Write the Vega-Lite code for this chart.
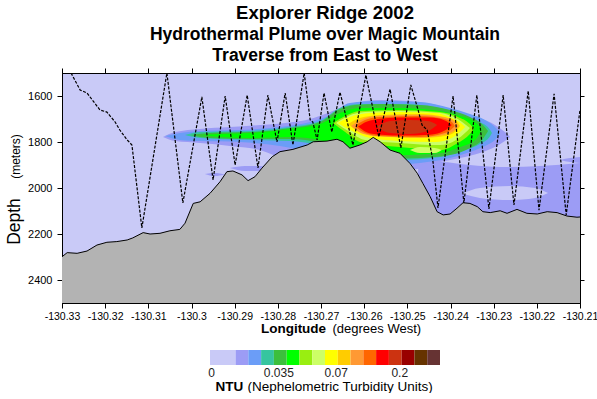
{
  "$schema": "https://vega.github.io/schema/vega-lite/v6.json",
  "padding": {"left": 5, "top": 3, "right": 0, "bottom": 0},
  "width": 518,
  "height": 230,
  "config": {
    "font": "Liberation Sans",
    "view": {"stroke": null},
    "axis": {"labelFont": "Liberation Sans", "titleFont": "Liberation Sans", "labelFontSize": 10.5, "labelColor": "#000", "tickColor": "#000", "domainColor": "#000", "titleColor": "#000", "grid": false, "labelFlush": false, "labelOverlap": false},
    "title": {"font": "Liberation Sans", "subtitleFont": "Liberation Sans", "color": "#000", "subtitleColor": "#000"}
  },
  "title": {
    "text": "Explorer Ridge 2002",
    "subtitle": ["Hydrothermal Plume over Magic Mountain", "Traverse from East to West"],
    "fontSize": 18.5,
    "fontWeight": "bold",
    "subtitleFontSize": 17.5,
    "subtitleFontWeight": "bold",
    "subtitlePadding": 4,
    "subtitleLineHeight": 21,
    "anchor": "middle",
    "frame": "group",
    "offset": 3,
    "dx": 4
  },
  "view": {"fill": "#c9caf7", "stroke": "#000", "strokeWidth": 1},
  "datasets": {
    "plume": [
      {"lvl":2,"blob":"a","lon":-130.3066,"top":1778,"bot":1778},
      {"lvl":2,"blob":"a","lon":-130.3038,"top":1757,"bot":1796},
      {"lvl":2,"blob":"a","lon":-130.2980,"top":1743,"bot":1804},
      {"lvl":2,"blob":"a","lon":-130.2911,"top":1735,"bot":1817},
      {"lvl":2,"blob":"a","lon":-130.2841,"top":1726,"bot":1835},
      {"lvl":2,"blob":"a","lon":-130.2783,"top":1717,"bot":1878},
      {"lvl":2,"blob":"a","lon":-130.2725,"top":1700,"bot":1900},
      {"lvl":2,"blob":"a","lon":-130.2679,"top":1670,"bot":1900},
      {"lvl":2,"blob":"a","lon":-130.2633,"top":1635,"bot":1913},
      {"lvl":2,"blob":"a","lon":-130.2563,"top":1617,"bot":1922},
      {"lvl":2,"blob":"a","lon":-130.2494,"top":1622,"bot":1922},
      {"lvl":2,"blob":"a","lon":-130.2424,"top":1643,"bot":1887},
      {"lvl":2,"blob":"a","lon":-130.2378,"top":1670,"bot":1870},
      {"lvl":2,"blob":"a","lon":-130.2332,"top":1696,"bot":1848},
      {"lvl":2,"blob":"a","lon":-130.2297,"top":1726,"bot":1822},
      {"lvl":2,"blob":"a","lon":-130.2274,"top":1757,"bot":1796},
      {"lvl":2,"blob":"a","lon":-130.2262,"top":1778,"bot":1778},
      {"lvl":2,"blob":"b","lon":-130.2911,"top":1913,"bot":1913},
      {"lvl":2,"blob":"b","lon":-130.2876,"top":1904,"bot":1926},
      {"lvl":2,"blob":"b","lon":-130.2841,"top":1904,"bot":1926},
      {"lvl":2,"blob":"b","lon":-130.2818,"top":1913,"bot":1913},
      {"lvl":2,"blob":"c","lon":-130.2969,"top":1939,"bot":1939},
      {"lvl":2,"blob":"c","lon":-130.2946,"top":1935,"bot":1948},
      {"lvl":2,"blob":"c","lon":-130.2922,"top":1941,"bot":1941},
      {"lvl":2,"blob":"d","lon":-130.2475,"top":1900,"bot":2161},
      {"lvl":2,"blob":"d","lon":-130.2424,"top":1887,"bot":2161},
      {"lvl":2,"blob":"d","lon":-130.2355,"top":1900,"bot":2161},
      {"lvl":2,"blob":"d","lon":-130.2285,"top":1909,"bot":2161},
      {"lvl":2,"blob":"d","lon":-130.2193,"top":1904,"bot":2161},
      {"lvl":2,"blob":"d","lon":-130.2100,"top":1891,"bot":2161},
      {"lvl":2,"blob":"e","lon":-130.2146,"top":1878,"bot":1878},
      {"lvl":2,"blob":"e","lon":-130.2123,"top":1870,"bot":1887},
      {"lvl":2,"blob":"e","lon":-130.2100,"top":1865,"bot":1891},
      {"lvl":1,"blob":"s1","lon":-130.2373,"top":2024,"bot":2024},
      {"lvl":1,"blob":"s1","lon":-130.2332,"top":2000,"bot":2043},
      {"lvl":1,"blob":"s1","lon":-130.2262,"top":1991,"bot":2052},
      {"lvl":1,"blob":"s1","lon":-130.2204,"top":2000,"bot":2043},
      {"lvl":1,"blob":"s1","lon":-130.2174,"top":2022,"bot":2022},
      {"lvl":3,"blob":"a","lon":-130.3061,"top":1774,"bot":1774},
      {"lvl":3,"blob":"a","lon":-130.3027,"top":1761,"bot":1791},
      {"lvl":3,"blob":"a","lon":-130.2980,"top":1752,"bot":1796},
      {"lvl":3,"blob":"a","lon":-130.2888,"top":1748,"bot":1800},
      {"lvl":3,"blob":"a","lon":-130.2795,"top":1735,"bot":1817},
      {"lvl":3,"blob":"a","lon":-130.2725,"top":1713,"bot":1843},
      {"lvl":3,"blob":"a","lon":-130.2679,"top":1683,"bot":1865},
      {"lvl":3,"blob":"a","lon":-130.2633,"top":1630,"bot":1887},
      {"lvl":3,"blob":"a","lon":-130.2563,"top":1622,"bot":1900},
      {"lvl":3,"blob":"a","lon":-130.2471,"top":1626,"bot":1891},
      {"lvl":3,"blob":"a","lon":-130.2401,"top":1652,"bot":1870},
      {"lvl":3,"blob":"a","lon":-130.2355,"top":1678,"bot":1843},
      {"lvl":3,"blob":"a","lon":-130.2320,"top":1704,"bot":1817},
      {"lvl":3,"blob":"a","lon":-130.2297,"top":1735,"bot":1791},
      {"lvl":3,"blob":"a","lon":-130.2285,"top":1763,"bot":1763},
      {"lvl":4,"blob":"a","lon":-130.3015,"top":1770,"bot":1770},
      {"lvl":4,"blob":"a","lon":-130.2980,"top":1757,"bot":1783},
      {"lvl":4,"blob":"a","lon":-130.2864,"top":1752,"bot":1791},
      {"lvl":4,"blob":"a","lon":-130.2772,"top":1735,"bot":1796},
      {"lvl":4,"blob":"a","lon":-130.2702,"top":1709,"bot":1817},
      {"lvl":4,"blob":"a","lon":-130.2656,"top":1652,"bot":1857},
      {"lvl":4,"blob":"a","lon":-130.2610,"top":1635,"bot":1878},
      {"lvl":4,"blob":"a","lon":-130.2517,"top":1635,"bot":1878},
      {"lvl":4,"blob":"a","lon":-130.2424,"top":1652,"bot":1865},
      {"lvl":4,"blob":"a","lon":-130.2366,"top":1687,"bot":1835},
      {"lvl":4,"blob":"a","lon":-130.2332,"top":1713,"bot":1809},
      {"lvl":4,"blob":"a","lon":-130.2308,"top":1748,"bot":1774},
      {"lvl":4,"blob":"a","lon":-130.2304,"top":1761,"bot":1761},
      {"lvl":5,"blob":"a","lon":-130.3003,"top":1770,"bot":1770},
      {"lvl":5,"blob":"a","lon":-130.2957,"top":1761,"bot":1783},
      {"lvl":5,"blob":"a","lon":-130.2864,"top":1757,"bot":1787},
      {"lvl":5,"blob":"a","lon":-130.2772,"top":1739,"bot":1787},
      {"lvl":5,"blob":"a","lon":-130.2702,"top":1713,"bot":1804},
      {"lvl":5,"blob":"a","lon":-130.2656,"top":1657,"bot":1843},
      {"lvl":5,"blob":"a","lon":-130.2621,"top":1639,"bot":1870},
      {"lvl":5,"blob":"a","lon":-130.2563,"top":1635,"bot":1874},
      {"lvl":5,"blob":"a","lon":-130.2471,"top":1639,"bot":1870},
      {"lvl":5,"blob":"a","lon":-130.2401,"top":1661,"bot":1857},
      {"lvl":5,"blob":"a","lon":-130.2355,"top":1691,"bot":1826},
      {"lvl":5,"blob":"a","lon":-130.2327,"top":1722,"bot":1791},
      {"lvl":5,"blob":"a","lon":-130.2313,"top":1752,"bot":1752},
      {"lvl":6,"blob":"a","lon":-130.2980,"top":1770,"bot":1770},
      {"lvl":6,"blob":"a","lon":-130.2934,"top":1765,"bot":1778},
      {"lvl":6,"blob":"a","lon":-130.2864,"top":1761,"bot":1783},
      {"lvl":6,"blob":"a","lon":-130.2772,"top":1743,"bot":1778},
      {"lvl":6,"blob":"a","lon":-130.2702,"top":1722,"bot":1791},
      {"lvl":6,"blob":"a","lon":-130.2656,"top":1674,"bot":1826},
      {"lvl":6,"blob":"a","lon":-130.2610,"top":1652,"bot":1857},
      {"lvl":6,"blob":"a","lon":-130.2517,"top":1652,"bot":1857},
      {"lvl":6,"blob":"a","lon":-130.2424,"top":1665,"bot":1848},
      {"lvl":6,"blob":"a","lon":-130.2378,"top":1687,"bot":1822},
      {"lvl":6,"blob":"a","lon":-130.2343,"top":1713,"bot":1791},
      {"lvl":6,"blob":"a","lon":-130.2327,"top":1743,"bot":1743},
      {"lvl":7,"blob":"a","lon":-130.2672,"top":1717,"bot":1717},
      {"lvl":7,"blob":"a","lon":-130.2644,"top":1687,"bot":1757},
      {"lvl":7,"blob":"a","lon":-130.2610,"top":1665,"bot":1800},
      {"lvl":7,"blob":"a","lon":-130.2517,"top":1661,"bot":1822},
      {"lvl":7,"blob":"a","lon":-130.2424,"top":1670,"bot":1835},
      {"lvl":7,"blob":"a","lon":-130.2383,"top":1691,"bot":1804},
      {"lvl":7,"blob":"a","lon":-130.2355,"top":1722,"bot":1765},
      {"lvl":7,"blob":"a","lon":-130.2346,"top":1743,"bot":1743},
      {"lvl":8,"blob":"a","lon":-130.2665,"top":1717,"bot":1717},
      {"lvl":8,"blob":"a","lon":-130.2637,"top":1687,"bot":1752},
      {"lvl":8,"blob":"a","lon":-130.2598,"top":1670,"bot":1791},
      {"lvl":8,"blob":"a","lon":-130.2517,"top":1665,"bot":1804},
      {"lvl":8,"blob":"a","lon":-130.2424,"top":1674,"bot":1813},
      {"lvl":8,"blob":"a","lon":-130.2387,"top":1696,"bot":1791},
      {"lvl":8,"blob":"a","lon":-130.2364,"top":1726,"bot":1757},
      {"lvl":8,"blob":"a","lon":-130.2355,"top":1739,"bot":1739},
      {"lvl":8,"blob":"b","lon":-130.2494,"top":1835,"bot":1835},
      {"lvl":8,"blob":"b","lon":-130.2471,"top":1822,"bot":1848},
      {"lvl":8,"blob":"b","lon":-130.2436,"top":1826,"bot":1848},
      {"lvl":8,"blob":"b","lon":-130.2420,"top":1835,"bot":1835},
      {"lvl":9,"blob":"a","lon":-130.2661,"top":1717,"bot":1717},
      {"lvl":9,"blob":"a","lon":-130.2633,"top":1691,"bot":1748},
      {"lvl":9,"blob":"a","lon":-130.2586,"top":1674,"bot":1783},
      {"lvl":9,"blob":"a","lon":-130.2517,"top":1670,"bot":1796},
      {"lvl":9,"blob":"a","lon":-130.2436,"top":1674,"bot":1800},
      {"lvl":9,"blob":"a","lon":-130.2397,"top":1696,"bot":1783},
      {"lvl":9,"blob":"a","lon":-130.2373,"top":1722,"bot":1748},
      {"lvl":9,"blob":"a","lon":-130.2366,"top":1735,"bot":1735},
      {"lvl":10,"blob":"a","lon":-130.2637,"top":1722,"bot":1722},
      {"lvl":10,"blob":"a","lon":-130.2610,"top":1696,"bot":1757},
      {"lvl":10,"blob":"a","lon":-130.2563,"top":1683,"bot":1774},
      {"lvl":10,"blob":"a","lon":-130.2471,"top":1678,"bot":1783},
      {"lvl":10,"blob":"a","lon":-130.2413,"top":1691,"bot":1774},
      {"lvl":10,"blob":"a","lon":-130.2387,"top":1709,"bot":1752},
      {"lvl":10,"blob":"a","lon":-130.2378,"top":1730,"bot":1730},
      {"lvl":11,"blob":"a","lon":-130.2630,"top":1730,"bot":1730},
      {"lvl":11,"blob":"a","lon":-130.2605,"top":1702,"bot":1763},
      {"lvl":11,"blob":"a","lon":-130.2563,"top":1686,"bot":1776},
      {"lvl":11,"blob":"a","lon":-130.2471,"top":1681,"bot":1780},
      {"lvl":11,"blob":"a","lon":-130.2413,"top":1694,"bot":1767},
      {"lvl":11,"blob":"a","lon":-130.2390,"top":1712,"bot":1749},
      {"lvl":11,"blob":"a","lon":-130.2381,"top":1730,"bot":1730},
      {"lvl":12,"blob":"a","lon":-130.2621,"top":1730,"bot":1730},
      {"lvl":12,"blob":"a","lon":-130.2598,"top":1704,"bot":1761},
      {"lvl":12,"blob":"a","lon":-130.2563,"top":1691,"bot":1774},
      {"lvl":12,"blob":"a","lon":-130.2471,"top":1687,"bot":1778},
      {"lvl":12,"blob":"a","lon":-130.2413,"top":1700,"bot":1761},
      {"lvl":12,"blob":"a","lon":-130.2397,"top":1713,"bot":1743},
      {"lvl":12,"blob":"a","lon":-130.2390,"top":1730,"bot":1730},
      {"lvl":13,"blob":"a","lon":-130.2614,"top":1733,"bot":1733},
      {"lvl":13,"blob":"a","lon":-130.2586,"top":1706,"bot":1763},
      {"lvl":13,"blob":"a","lon":-130.2517,"top":1694,"bot":1772},
      {"lvl":13,"blob":"a","lon":-130.2447,"top":1694,"bot":1768},
      {"lvl":13,"blob":"a","lon":-130.2413,"top":1706,"bot":1750},
      {"lvl":13,"blob":"a","lon":-130.2397,"top":1726,"bot":1726},
      {"lvl":14,"blob":"a","lon":-130.2573,"top":1735,"bot":1735},
      {"lvl":14,"blob":"a","lon":-130.2540,"top":1709,"bot":1761},
      {"lvl":14,"blob":"a","lon":-130.2494,"top":1704,"bot":1765},
      {"lvl":14,"blob":"a","lon":-130.2452,"top":1709,"bot":1752},
      {"lvl":14,"blob":"a","lon":-130.2431,"top":1726,"bot":1726}
    ],
    "floor": [
      {"lon":-130.33,"depth":2299},{"lon":-130.3288,"depth":2281},{"lon":-130.3265,"depth":2284},{"lon":-130.3242,"depth":2274},
      {"lon":-130.3219,"depth":2248},{"lon":-130.3196,"depth":2236},{"lon":-130.3173,"depth":2233},{"lon":-130.3149,"depth":2226},
      {"lon":-130.3136,"depth":2217},{"lon":-130.3112,"depth":2194},{"lon":-130.3096,"depth":2200},{"lon":-130.3073,"depth":2197},
      {"lon":-130.305,"depth":2186},{"lon":-130.3027,"depth":2180},{"lon":-130.3015,"depth":2153},{"lon":-130.2996,"depth":2067},
      {"lon":-130.298,"depth":2060},{"lon":-130.2957,"depth":2023},{"lon":-130.2934,"depth":1973},{"lon":-130.2918,"depth":1929},
      {"lon":-130.2904,"depth":1926},{"lon":-130.2883,"depth":1943},{"lon":-130.2869,"depth":1968},{"lon":-130.2853,"depth":1951},
      {"lon":-130.2837,"depth":1914},{"lon":-130.2813,"depth":1864},{"lon":-130.2795,"depth":1842},{"lon":-130.2765,"depth":1832},
      {"lon":-130.2732,"depth":1813},{"lon":-130.2718,"depth":1799},{"lon":-130.2686,"depth":1796},{"lon":-130.2663,"depth":1788},
      {"lon":-130.2649,"depth":1799},{"lon":-130.2633,"depth":1827},{"lon":-130.261,"depth":1813},{"lon":-130.2593,"depth":1799},
      {"lon":-130.2579,"depth":1780},{"lon":-130.2563,"depth":1799},{"lon":-130.254,"depth":1835},{"lon":-130.2517,"depth":1849},
      {"lon":-130.2494,"depth":1893},{"lon":-130.2477,"depth":1936},{"lon":-130.2464,"depth":1980},{"lon":-130.2447,"depth":2038},
      {"lon":-130.2431,"depth":2103},{"lon":-130.2417,"depth":2117},{"lon":-130.2401,"depth":2113},{"lon":-130.2385,"depth":2088},
      {"lon":-130.2371,"depth":2064},{"lon":-130.2355,"depth":2067},{"lon":-130.2338,"depth":2081},{"lon":-130.2325,"depth":2103},
      {"lon":-130.2308,"depth":2107},{"lon":-130.2285,"depth":2099},{"lon":-130.2269,"depth":2110},{"lon":-130.2246,"depth":2093},
      {"lon":-130.2223,"depth":2110},{"lon":-130.2199,"depth":2113},{"lon":-130.2176,"depth":2103},{"lon":-130.2153,"depth":2107},
      {"lon":-130.213,"depth":2122},{"lon":-130.2107,"depth":2127},{"lon":-130.21,"depth":2126}
    ],
    "tow": [
      {"i":0,"lon":-130.3279,"depth":1500},{"i":1,"lon":-130.3258,"depth":1574},{"i":2,"lon":-130.3242,"depth":1587},
      {"i":3,"lon":-130.3212,"depth":1661},{"i":4,"lon":-130.3196,"depth":1670},{"i":5,"lon":-130.3177,"depth":1713},
      {"i":6,"lon":-130.3166,"depth":1748},{"i":7,"lon":-130.3149,"depth":1791},{"i":8,"lon":-130.3138,"depth":1813},
      {"i":9,"lon":-130.3115,"depth":2174},{"i":10,"lon":-130.3057,"depth":1500},{"i":11,"lon":-130.302,"depth":2065},
      {"i":12,"lon":-130.2976,"depth":1604},{"i":13,"lon":-130.295,"depth":1965},{"i":14,"lon":-130.2922,"depth":1600},
      {"i":15,"lon":-130.2899,"depth":1900},{"i":16,"lon":-130.2871,"depth":1596},{"i":17,"lon":-130.2846,"depth":1913},
      {"i":18,"lon":-130.2823,"depth":1596},{"i":19,"lon":-130.2802,"depth":1800},{"i":20,"lon":-130.2783,"depth":1587},
      {"i":21,"lon":-130.2765,"depth":1813},{"i":22,"lon":-130.2739,"depth":1500},{"i":23,"lon":-130.2725,"depth":1704},
      {"i":24,"lon":-130.2719,"depth":1713},{"i":25,"lon":-130.2709,"depth":1791},{"i":26,"lon":-130.2693,"depth":1587},
      {"i":27,"lon":-130.2675,"depth":1757},{"i":28,"lon":-130.2656,"depth":1583},{"i":29,"lon":-130.2626,"depth":1813},
      {"i":30,"lon":-130.2596,"depth":1509},{"i":31,"lon":-130.2566,"depth":1778},{"i":32,"lon":-130.254,"depth":1570},
      {"i":33,"lon":-130.2515,"depth":1826},{"i":34,"lon":-130.2492,"depth":1552},{"i":35,"lon":-130.2475,"depth":1661},
      {"i":36,"lon":-130.2466,"depth":1726},{"i":37,"lon":-130.2454,"depth":1748},{"i":38,"lon":-130.2441,"depth":1878},
      {"i":39,"lon":-130.2429,"depth":2087},{"i":40,"lon":-130.2394,"depth":1600},{"i":41,"lon":-130.2369,"depth":2065},
      {"i":42,"lon":-130.2339,"depth":1596},{"i":43,"lon":-130.2311,"depth":2091},{"i":44,"lon":-130.2278,"depth":1596},
      {"i":45,"lon":-130.2253,"depth":2074},{"i":46,"lon":-130.222,"depth":1578},{"i":47,"lon":-130.2195,"depth":2096},
      {"i":48,"lon":-130.216,"depth":1591},{"i":49,"lon":-130.2132,"depth":2117},{"i":50,"lon":-130.21,"depth":1661}
    ],
    "legend": [
      {"lo":0,"hi":2},{"lo":2,"hi":3},{"lo":3,"hi":4},{"lo":4,"hi":5},{"lo":5,"hi":6},{"lo":6,"hi":7},
      {"lo":7,"hi":8},{"lo":8,"hi":9},{"lo":9,"hi":10},{"lo":10,"hi":11},{"lo":11,"hi":12},{"lo":12,"hi":13},
      {"lo":13,"hi":14},{"lo":14,"hi":15},{"lo":15,"hi":16},{"lo":16,"hi":17},{"lo":17,"hi":18}
    ]
  },
  "layer": [
    {
      "data": {"name": "plume"},
      "encoding": {
        "x": {"field": "lon", "type": "quantitative", "scale": {"domain": [-130.33, -130.21], "nice": false, "zero": false}, "axis": null},
        "y": {"field": "top", "type": "quantitative", "scale": {"domain": [1500, 2500], "reverse": true, "nice": false, "zero": false}, "axis": null, "stack": null},
        "y2": {"field": "bot"},
        "detail": {"field": "blob", "type": "nominal"}
      },
      "layer": [
        {"transform": [{"filter": "datum.lvl == 2"}], "mark": {"type": "area", "color": "#9c9cf5", "interpolate": "monotone", "clip": true}},
        {"transform": [{"filter": "datum.lvl == 1"}], "mark": {"type": "area", "color": "#c9caf7", "interpolate": "monotone", "clip": true}},
        {"transform": [{"filter": "datum.lvl == 3"}], "mark": {"type": "area", "color": "#6b9df7", "interpolate": "monotone", "clip": true}},
        {"transform": [{"filter": "datum.lvl == 4"}], "mark": {"type": "area", "color": "#36c59f", "interpolate": "monotone", "clip": true}},
        {"transform": [{"filter": "datum.lvl == 5"}], "mark": {"type": "area", "color": "#3cbf3c", "interpolate": "monotone", "clip": true}},
        {"transform": [{"filter": "datum.lvl == 6"}], "mark": {"type": "area", "color": "#00ff00", "interpolate": "monotone", "clip": true}},
        {"transform": [{"filter": "datum.lvl == 7"}], "mark": {"type": "area", "color": "#99ee11", "interpolate": "monotone", "clip": true}},
        {"transform": [{"filter": "datum.lvl == 8"}], "mark": {"type": "area", "color": "#ccff66", "interpolate": "monotone", "clip": true}},
        {"transform": [{"filter": "datum.lvl == 9"}], "mark": {"type": "area", "color": "#ffff00", "interpolate": "monotone", "clip": true}},
        {"transform": [{"filter": "datum.lvl == 10"}], "mark": {"type": "area", "color": "#ffcc00", "interpolate": "monotone", "clip": true}},
        {"transform": [{"filter": "datum.lvl == 11"}], "mark": {"type": "area", "color": "#ff9933", "interpolate": "monotone", "clip": true}},
        {"transform": [{"filter": "datum.lvl == 12"}], "mark": {"type": "area", "color": "#ff6600", "interpolate": "monotone", "clip": true}},
        {"transform": [{"filter": "datum.lvl == 13"}], "mark": {"type": "area", "color": "#ff0000", "interpolate": "monotone", "clip": true}},
        {"transform": [{"filter": "datum.lvl == 14"}], "mark": {"type": "area", "color": "#cc3311", "interpolate": "monotone", "clip": true}}
      ]
    },
    {
      "data": {"name": "floor"},
      "mark": {"type": "area", "color": "#b3b3b3", "clip": true},
      "encoding": {
        "x": {"field": "lon", "type": "quantitative", "scale": {"domain": [-130.33, -130.21], "nice": false, "zero": false},
          "axis": {"orient": "bottom", "values": [-130.33, -130.32, -130.31, -130.3, -130.29, -130.28, -130.27, -130.26, -130.25, -130.24, -130.23, -130.22, -130.21],
            "labelExpr": "'' + datum.value", "tickSize": 5, "labelPadding": 3,
            "title": "Longitude", "titleX": 231, "titleY": 29, "titleAlign": "center", "titleBaseline": "alphabetic", "titleFontSize": 13.5, "titleFontWeight": "bold"}},
        "y": {"field": "depth", "type": "quantitative", "scale": {"domain": [1500, 2500], "reverse": true, "nice": false, "zero": false}, "stack": null,
          "axis": {"orient": "left", "values": [1600, 1800, 2000, 2200, 2400], "format": "d", "tickSize": 5, "labelPadding": 5, "labelFontSize": 11,
            "title": "Depth", "titleX": -43, "titleY": 148, "titleAngle": 270, "titleAlign": "center", "titleBaseline": "alphabetic", "titleFontSize": 17.5, "titleFontWeight": "normal"}},
        "y2": {"datum": 2500}
      }
    },
    {
      "data": {"name": "floor"},
      "mark": {"type": "line", "color": "#000", "strokeWidth": 1, "clip": true},
      "encoding": {
        "x": {"field": "lon", "type": "quantitative", "scale": {"domain": [-130.33, -130.21], "nice": false, "zero": false},
          "axis": {"orient": "bottom", "labels": false, "ticks": false, "domain": false,
            "title": "(degrees West)", "titleX": 270, "titleY": 29, "titleAlign": "left", "titleBaseline": "alphabetic", "titleFontSize": 13, "titleFontWeight": "normal"}},
        "y": {"field": "depth", "type": "quantitative", "scale": {"domain": [1500, 2500], "reverse": true, "nice": false, "zero": false},
          "axis": {"orient": "left", "labels": false, "ticks": false, "domain": false,
            "title": "(meters)", "titleX": -43, "titleY": 83, "titleAngle": 270, "titleAlign": "center", "titleBaseline": "alphabetic", "titleFontSize": 12, "titleFontWeight": "normal"}}
      }
    },
    {
      "data": {"name": "tow"},
      "mark": {"type": "line", "color": "#000", "strokeWidth": 1.2, "strokeDash": [3, 1.5], "clip": true},
      "encoding": {
        "x": {"field": "lon", "type": "quantitative", "scale": {"domain": [-130.33, -130.21], "nice": false, "zero": false},
          "axis": {"orient": "top", "labels": false, "title": null, "tickSize": 5,
            "values": [-130.33, -130.32, -130.31, -130.3, -130.29, -130.28, -130.27, -130.26, -130.25, -130.24, -130.23, -130.22, -130.21]}},
        "y": {"field": "depth", "type": "quantitative", "scale": {"domain": [1500, 2500], "reverse": true, "nice": false, "zero": false},
          "axis": {"orient": "right", "labels": false, "title": null, "tickSize": 4, "values": [1600, 1800, 2000, 2200, 2400]}},
        "order": {"field": "i", "type": "quantitative"}
      }
    },
    {
      "data": {"name": "legend"},
      "mark": {"type": "rect"},
      "encoding": {
        "x": {"field": "lo", "type": "quantitative", "scale": {"domain": [0, 18], "range": [148, 378], "nice": false, "zero": false},
          "axis": {"orient": "bottom", "offset": 62, "values": [0.08, 5.35, 9.84, 14.81],
            "labelExpr": "datum.value < 1 ? '0' : datum.value < 7 ? '0.035' : datum.value < 12 ? '0.07' : '0.2'",
            "ticks": false, "tickSize": 0, "domain": false, "labelFontSize": 12, "labelColor": "#222", "labelPadding": 2,
            "title": "NTU", "titleX": 153, "titleY": 25, "titleAlign": "left", "titleBaseline": "alphabetic", "titleFontSize": 13.5, "titleFontWeight": "bold"}},
        "x2": {"field": "hi"},
        "y": {"datum": 0, "type": "quantitative", "scale": {"domain": [0, 1], "range": [277, 292], "nice": false, "zero": false}, "axis": null},
        "y2": {"datum": 1},
        "color": {"field": "lo", "type": "ordinal", "legend": null,
          "scale": {"domain": [0, 2, 3, 4, 5, 6, 7, 8, 9, 10, 11, 12, 13, 14, 15, 16, 17],
            "range": ["#c9caf7", "#9c9cf5", "#6b9df7", "#36c59f", "#3cbf3c", "#00ff00", "#99ee11", "#ccff66", "#ffff00", "#ffcc00", "#ff9933", "#ff6600", "#ff0000", "#cc3311", "#990000", "#663300", "#663333"]}}
      }
    },
    {
      "data": {"name": "legend"},
      "mark": {"type": "rect", "opacity": 0},
      "encoding": {
        "x": {"field": "lo", "type": "quantitative", "scale": {"domain": [0, 18], "range": [148, 378], "nice": false, "zero": false},
          "axis": {"orient": "bottom", "offset": 62, "labels": false, "ticks": false, "domain": false,
            "title": "(Nephelometric Turbidity Units)", "titleX": 185, "titleY": 25, "titleAlign": "left", "titleBaseline": "alphabetic", "titleFontSize": 13.5, "titleFontWeight": "normal"}},
        "x2": {"field": "hi"},
        "y": {"datum": 0, "type": "quantitative", "scale": {"domain": [0, 1], "range": [277, 292], "nice": false, "zero": false}, "axis": null},
        "y2": {"datum": 1}
      }
    }
  ],
  "resolve": {
    "scale": {"x": "independent", "y": "independent", "color": "independent"},
    "axis": {"x": "independent", "y": "independent"}
  }
}
